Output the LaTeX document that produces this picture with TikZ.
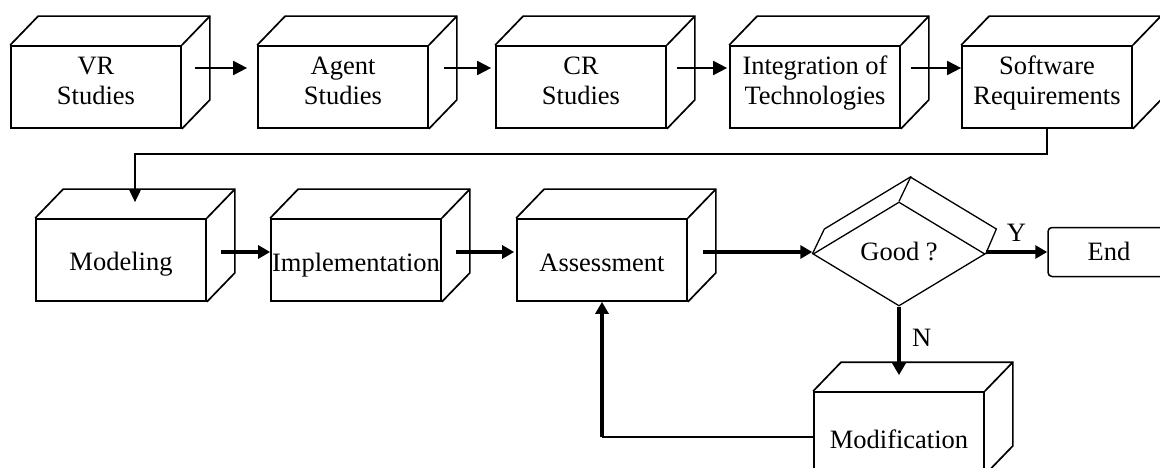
\documentclass[tikz,border=0pt]{standalone}
\usepackage{fontspec}
\setmainfont{Liberation Serif}
\usetikzlibrary{arrows.meta,calc,shapes.geometric}
% label whose first baseline sits #1 above the middle of its node
\newcommand\facetext[2]{\raisebox{#1}[0pt][0pt]{\begin{tabular}[t]{@{}c@{}}#2\end{tabular}}}
\begin{document}
\begin{tikzpicture}[x=1pt,y=-1pt,
  txt/.style={font=\fontsize{26.5}{30}\selectfont},
  face/.style={draw, line width=1.7pt, minimum width=170pt, minimum height=82pt,
    inner sep=0pt, txt},
  edge/.style={line width=1.7pt},
  thinline/.style={line width=1.8pt},
  arrA/.style={line width=1.8pt, -{Triangle[length=14pt,width=14pt]}},
  arrB/.style={line width=3.4pt, -{Triangle[length=12pt,width=13pt]}},
  dialine/.style={line width=1.3pt}]
\useasboundingbox (0,0) rectangle (1160,468);

% first row
\node[face] (vr)    at (96,87)   {\facetext{12pt}{VR\\Studies}};
\node[face] (agent) at (343,87)  {\facetext{12pt}{Agent\\Studies}};
\node[face] (cr)    at (581,87)  {\facetext{12pt}{CR\\Studies}};
\node[face] (integ) at (815,87)  {\facetext{12pt}{Integration of\\Technologies}};
\node[face] (soft)  at (1047,87) {\facetext{12pt}{Software\\Requirements}};

% second row
\node[face] (model)  at (121,260) {\facetext{-10pt}{Modeling}};
\node[face] (impl)   at (356,260) {\facetext{-11pt}{Implementation}};
\node[face] (assess) at (602,260) {\facetext{-11pt}{Assessment}};
\node[face] (mod)    at (899,433) {\facetext{-15pt}{Modification}};

% depth of each box: top and right faces
\foreach \n in {vr,agent,cr,integ,soft,model,impl,assess,mod} {
  \draw[edge] (\n.north west) -- ++(28pt,29pt)
    -- ($(\n.north east)+(28pt,29pt)$) -- ($(\n.south east)+(28pt,29pt)$)
    -- (\n.south east);
  \draw[edge] (\n.north east) -- ++(28pt,29pt);
}

% decision
\node[diamond, draw, dialine, minimum width=172pt, minimum height=104pt,
  inner sep=0pt, txt] (dia) at (899,254) {\facetext{-6pt}{Good ?}};
\draw[dialine] (dia.west) -- ++(12pt,25pt) -- ++(86pt,52pt)
  -- ++(86pt,-52pt) -- (dia.east);
\draw[dialine] (dia.north) -- ++(12pt,25pt);

% end
\node[draw, line width=1.5pt, rounded corners=4pt, minimum width=122pt,
  minimum height=49pt, inner sep=0pt, txt] (end) at (1109,252) {\facetext{-8pt}{End}};

% first row connectors
\draw[arrA] ([shift={(13pt,19pt)}]vr.east) -- ([shift={(-10pt,19pt)}]agent.west);
\draw[arrA] ([shift={(15pt,19pt)}]agent.east) -- ([shift={(-4pt,19pt)}]cr.west);
\draw[arrA] ([shift={(10pt,19pt)}]cr.east) -- ([shift={(-2pt,19pt)}]integ.west);
\draw[arrA] ([shift={(10pt,19pt)}]integ.east) -- ([shift={(0pt,19pt)}]soft.west);

% back to the second row
\coordinate (mdin) at ($(model.north)+(14pt,16pt)$);
\draw[thinline, -{Triangle[length=13pt,width=12pt]}] (soft.south) -- ++(0,25) -| (mdin);

% second row connectors
\draw[arrB] ([shift={(14pt,8pt)}]model.east) -- ([yshift=8pt]impl.west);
\draw[arrB] ([shift={(14pt,8pt)}]impl.east) -- ([shift={(-2pt,8pt)}]assess.west);
\draw[arrB] ([shift={(15pt,8pt)}]assess.east) -- ([yshift=8pt]assess.east -| dia.west);
\draw[arrB] ([yshift=2pt]dia.east) -- node[above=5pt, pos=0.5, txt] (ylab) {Y} ([yshift=2pt]dia.east -| end.west);

% no branch
\coordinate (modin) at ($(mod.north)+(0pt,16pt)$);
\draw[arrB] (dia.south) -- node[right=8pt, pos=0.45, txt] (nlab) {N} (modin);

% loop back to assessment
\path ([yshift=-4pt]mod.west) -| coordinate[pos=0.5] (corner) (assess.south);
\draw[thinline] ([yshift=-4pt]mod.west) -- (corner);
\draw[arrB] (corner) -- (assess.south);
\end{tikzpicture}
\end{document}
